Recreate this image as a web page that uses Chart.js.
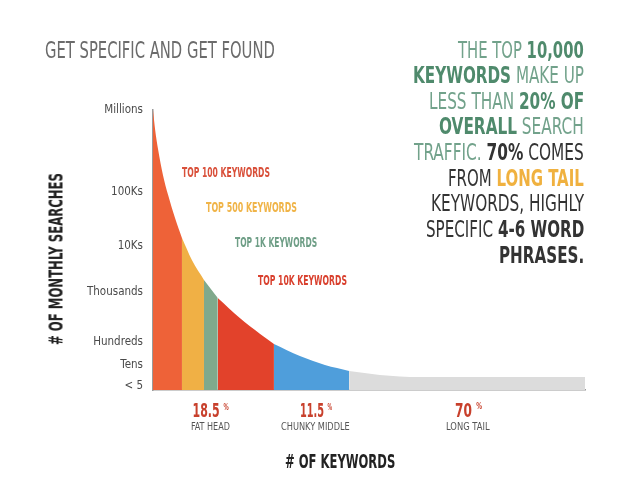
<!DOCTYPE html>
<html lang="en">

<head>
    <meta charset="UTF-8">
    <title>Get Specific and Get Found</title>
    <script src="https://cdn.jsdelivr.net/npm/chart.js"></script>
    <style>
        body {
            margin: 0;
            background: #ffffff;
            font-family: 'Liberation Sans Narrow', 'DejaVu Sans Condensed', 'Roboto', sans-serif;
        }

        .wrap {
            position: relative;
            width: 625px;
            height: 489px;
            overflow: hidden;
        }

        canvas {
            position: absolute;
            left: 0;
            top: 0;
        }

        .t {
            position: absolute;
            left: 0;
            top: 0;
            line-height: 1;
            white-space: nowrap;
            transform-origin: 0 0;
        }

        .b { font-weight: bold; }
        .g1 { color: #72a28b; }
        .g2 { color: #4f8a6c; }
        .dk { color: #333333; }
        .or { color: #f0b13f; }
    </style>
</head>

<body>
    <div class="wrap">
        <canvas id="tail" width="625" height="489"></canvas>

        <div class="t" data-cx="160" data-cy="50" data-w="230" data-fs="23" style="color:#6b6b6b">GET SPECIFIC AND GET FOUND</div>

        <!-- right hand text block -->
        <div class="t" data-r="584" data-cy="50" data-w="126" data-fs="23"><span class="g1">THE TOP </span><span class="g2 b">10,000</span></div>
        <div class="t" data-r="584" data-cy="75.5" data-w="171" data-fs="23"><span class="g2 b">KEYWORDS</span><span class="g1"> MAKE UP</span></div>
        <div class="t" data-r="584" data-cy="101" data-w="155" data-fs="23"><span class="g1">LESS THAN </span><span class="g2 b">20% OF</span></div>
        <div class="t" data-r="584" data-cy="126.5" data-w="145" data-fs="23"><span class="g2 b">OVERALL</span><span class="g1"> SEARCH</span></div>
        <div class="t" data-r="584" data-cy="152" data-w="170" data-fs="23"><span class="g1">TRAFFIC. </span><span class="dk b">70%</span><span class="dk"> COMES</span></div>
        <div class="t" data-r="584" data-cy="178" data-w="136" data-fs="23"><span class="dk">FROM </span><span class="or b">LONG TAIL</span></div>
        <div class="t dk" data-r="584" data-cy="203.5" data-w="153" data-fs="23">KEYWORDS, HIGHLY</div>
        <div class="t" data-r="584" data-cy="229" data-w="158" data-fs="23"><span class="dk">SPECIFIC </span><span class="dk b">4-6 WORD</span></div>
        <div class="t dk b" data-r="584" data-cy="255" data-w="85" data-fs="23">PHRASES.</div>

        <!-- labels inside the plot -->
        <div class="t b" data-cx="226" data-cy="172" data-w="88" data-fs="14" style="color:#d9503a">TOP 100 KEYWORDS</div>
        <div class="t b" data-cx="251.5" data-cy="207" data-w="91" data-fs="14" style="color:#f0b448">TOP 500 KEYWORDS</div>
        <div class="t b" data-cx="276" data-cy="242" data-w="82" data-fs="14" style="color:#6e9e86">TOP 1K KEYWORDS</div>
        <div class="t b" data-cx="302.5" data-cy="280" data-w="89" data-fs="14" style="color:#d9402e">TOP 10K KEYWORDS</div>

        <!-- share labels under the axis -->
        <div class="t" data-cx="210.5" data-cy="410.5" data-w="36" data-fs="19" style="color:#c8402c;font-weight:600">18.5 <sup style="font-size:9px">%</sup></div>
        <div class="t" data-cx="210.5" data-cy="426.5" data-w="39" data-fs="11" style="color:#555">FAT HEAD</div>
        <div class="t" data-cx="316" data-cy="410.5" data-w="32" data-fs="19" style="color:#c8402c;font-weight:600">11.5 <sup style="font-size:9px">%</sup></div>
        <div class="t" data-cx="315.5" data-cy="426.5" data-w="69" data-fs="11" style="color:#555">CHUNKY MIDDLE</div>
        <div class="t" data-cx="468.5" data-cy="410" data-w="27" data-fs="19" style="color:#c8402c;font-weight:600">70 <sup style="font-size:9px">%</sup></div>
        <div class="t" data-cx="468" data-cy="426.5" data-w="44" data-fs="11" style="color:#555">LONG TAIL</div>

        <div class="t b" data-cx="340" data-cy="460.5" data-w="110" data-fs="20" style="color:#222">&#35; OF KEYWORDS</div>
        <div class="t b" data-cx="55.5" data-cy="259" data-w="172" data-fs="20" data-rot="-90" style="color:#222">&#35; OF MONTHLY SEARCHES</div>
    </div>

    <script>
        // curve: x = share of the keyword axis (0-100), y = height level (0-100)
        const curveX = [0, 0.5, 1.2, 2.3, 3.5, 5.1, 6.7, 9.0, 11.8, 15.0, 20.1, 24.8, 28.0, 34.0, 39.8, 45.4, 52.5, 61.8, 100];
        const curveY = [100, 92.9, 85.7, 76.8, 69.6, 61.4, 54.3, 46.4, 39.3, 32.9, 25.7, 20.0, 16.4, 12.1, 8.9, 6.8, 5.4, 4.6, 4.6];

        // where each coloured band starts / ends
        const bandBreaks = [0, 6.7, 11.8, 15.0, 28.0, 45.4, 100];
        const bandNames = ['Top 100', 'Top 500', 'Top 1K', 'Top 10K', 'Chunky middle', 'Long tail'];
        const bandColors = ['#ee6238', '#f0b045', '#80a98c', '#e2422b', '#4f9edb', '#dcdcdc'];

        // y axis ticks
        const yTickValues = [1.4, 8.9, 17.25, 35, 51.4, 70.8, 100];
        const yTickLabels = ['< 5', 'Tens', 'Hundreds', 'Thousands', '10Ks', '100Ks', 'Millions'];

        const datasets = [];

        bandNames.forEach((name, i) => {
            const lo = bandBreaks[i], hi = bandBreaks[i + 1];
            const pts = [];
            curveX.forEach((x, j) => {
                if (x >= lo && x <= hi) pts.push({ x: x, y: curveY[j] });
            });
            datasets.push({
                label: name,
                data: pts,
                backgroundColor: bandColors[i],
                borderWidth: 0,
                pointRadius: 0,
                fill: 'origin',
                cubicInterpolationMode: 'monotone'
            });
        });

        // dotted white dividers between bands
        bandBreaks.slice(1, -1).forEach(b => {
            const j = curveX.indexOf(b);
            datasets.push({
                label: 'divider',
                data: [{ x: b, y: 0 }, { x: b, y: curveY[j] }],
                borderColor: 'rgba(255,255,255,0.85)',
                borderWidth: 1,
                borderDash: [2, 2],
                pointRadius: 0,
                fill: false
            });
        });

        const ctx = document.getElementById('tail').getContext('2d');
        new Chart(ctx, {
            type: 'line',
            data: { datasets: datasets },
            options: {
                responsive: false,
                animation: false,
                layout: {
                    padding: { left: 0, top: 110, right: 40, bottom: 99 }
                },
                plugins: {
                    legend: { display: false },
                    tooltip: { enabled: false }
                },
                scales: {
                    x: {
                        type: 'linear',
                        min: 0,
                        max: 100,
                        grid: { display: false, drawTicks: false },
                        ticks: { display: false },
                        border: { color: '#9a9a9a', width: 1.5 },
                        afterFit: s => { s.height = 0; }
                    },
                    y: {
                        type: 'linear',
                        min: 0,
                        max: 100,
                        grid: { display: false, drawTicks: false },
                        border: { color: '#9a9a9a', width: 1.5 },
                        afterBuildTicks: s => {
                            s.ticks = yTickValues.map(v => ({ value: v }));
                        },
                        afterFit: s => { s.width = 153; },
                        ticks: {
                            padding: 10,
                            color: '#4a4a4a',
                            font: { family: "'Liberation Sans Narrow', 'DejaVu Sans Condensed', sans-serif", size: 11.5, weight: 'normal' },
                            callback: v => yTickLabels[yTickValues.indexOf(v)]
                        }
                    }
                }
            }
        });

        // squeeze each text to the width it has in the picture
        document.querySelectorAll('.t').forEach(el => {
            const fs = +el.dataset.fs;
            el.style.fontSize = fs + 'px';
            const w = el.offsetWidth;
            const h = el.offsetHeight;
            const target = +el.dataset.w;
            const sx = target / w;
            const cx = el.dataset.r ? +el.dataset.r - target / 2 : +el.dataset.cx;
            const cy = +el.dataset.cy;
            const rot = el.dataset.rot ? +el.dataset.rot : 0;
            el.style.transform = `translate(${cx}px, ${cy}px) rotate(${rot}deg) scale(${sx}, 1) translate(${-w / 2}px, ${-h / 2}px)`;
        });
    </script>
</body>

</html>
